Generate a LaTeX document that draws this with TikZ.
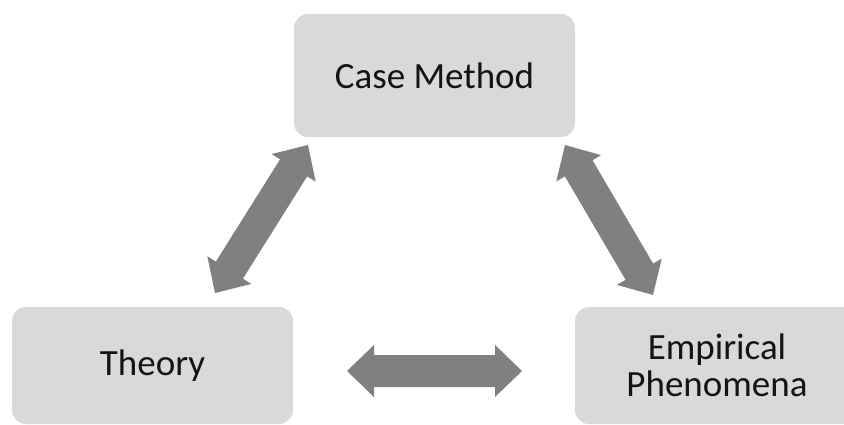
\documentclass[tikz,border=0pt]{standalone}
\usepackage{fontspec}
\setmainfont{Carlito}
\usetikzlibrary{calc}
\definecolor{boxgray}{HTML}{D9D9D9}
\definecolor{arrowgray}{HTML}{808080}
\definecolor{textblack}{HTML}{141414}
\tikzset{
  box/.style={fill=boxgray, draw=none, rounded corners=14pt, text=textblack,
    font=\fontsize{37}{37}\selectfont, align=center, inner sep=0pt},
  blockarrow/.style={fill=arrowgray, draw=none}
}
% double block arrow between two named coordinates
\newcommand{\dblblockarrow}[2]{%
  \fill[blockarrow] let \p1=(#1), \p2=(#2), \n1={atan2(\y2-\y1,\x2-\x1)} in
    (#1)
    -- ($(#1)+(\n1:27pt)+(\n1+90:26pt)$)
    -- ($(#1)+(\n1:27pt)+(\n1+90:16pt)$)
    -- ($(#2)+(\n1:-27pt)+(\n1+90:16pt)$)
    -- ($(#2)+(\n1:-27pt)+(\n1+90:26pt)$)
    -- (#2)
    -- ($(#2)+(\n1:-27pt)+(\n1-90:26pt)$)
    -- ($(#2)+(\n1:-27pt)+(\n1-90:16pt)$)
    -- ($(#1)+(\n1:27pt)+(\n1-90:16pt)$)
    -- ($(#1)+(\n1:27pt)+(\n1-90:26pt)$)
    -- cycle;}
\begin{document}
\begin{tikzpicture}[x=1pt,y=-1pt]
  \useasboundingbox (0,0) rectangle (844,425);
  \clip (0,0) rectangle (844,425);
  \fill[white] (0,0) rectangle (844,425);
  % boxes
  \node[box, minimum width=281pt, minimum height=123pt] (cm) at (434.5,75.5) {Case Method};
  \node[box, minimum width=281pt, minimum height=117pt] (th) at (152.5,365.5) {Theory};
  \node[box, minimum width=284pt, minimum height=117pt] (ep) at (717,365.5) {Empirical\\Phenomena};
  % arrow end points
  \coordinate (a1) at (308,145);
  \coordinate (a2) at (215,293);
  \coordinate (b1) at (347,371);
  \coordinate (b2) at (522,371);
  \coordinate (c1) at (565,145);
  \coordinate (c2) at (653,295);
  \dblblockarrow{a1}{a2}
  \dblblockarrow{b1}{b2}
  \dblblockarrow{c1}{c2}
\end{tikzpicture}
\end{document}
